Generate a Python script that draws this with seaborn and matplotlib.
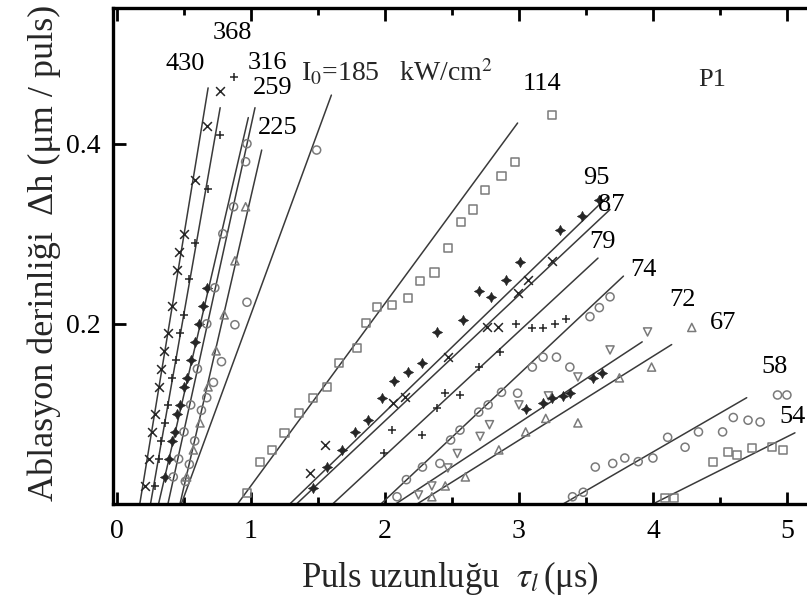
"""
Ablation depth per pulse vs pulse length, series for several intensities (P1)
"""
import numpy as np
import pandas as pd
import matplotlib
matplotlib.use('Agg')
import matplotlib.pyplot as plt
import seaborn as sns
from matplotlib.ticker import MultipleLocator, FixedLocator, FormatStrFormatter

# ── Data ──────────────────────────────────────────────────────────────────
# fitted lines: x where the fit meets zero, and the top end of the fit
LABELS  = ['430', '368', '316', '259', '225', '185', '114', '95', '87',
           '79', '74', '72', '67', '58', '54']
LINE_X0 = [0.17, 0.25, 0.31, 0.38, 0.47, 0.48, 0.90, 1.29, 1.34,
           1.61, 1.97, 2.08, 2.24, 3.33, 4.00]
LINE_X1 = [0.68, 0.77, 0.98, 1.03, 1.08, 1.60, 2.99, 3.66, 3.68,
           3.59, 3.78, 3.92, 4.14, 4.70, 5.06]
LINE_Y1 = [0.462, 0.440, 0.429, 0.440, 0.393, 0.454, 0.423, 0.341, 0.327,
           0.273, 0.253, 0.180, 0.177, 0.118, 0.079]

# label positions (data coords)
LABEL_X = [0.51, 0.86, 1.12, 1.16, 1.20, None, 3.17, 3.58, 3.69,
           3.62, 3.93, 4.22, 4.52, 4.91, 5.04]
LABEL_Y = [0.488, 0.523, 0.490, 0.462, 0.418, None, 0.466, 0.362, 0.332,
           0.291, 0.260, 0.227, 0.201, 0.152, 0.097]

# measured points
X430 = [0.21, 0.24, 0.26, 0.28, 0.31, 0.33, 0.35, 0.38, 0.41, 0.45, 0.46, 0.50, 0.58, 0.67, 0.77]
Y430 = [0.02, 0.05, 0.08, 0.10, 0.13, 0.15, 0.17, 0.19, 0.22, 0.26, 0.28, 0.30, 0.36, 0.42, 0.458]
X368 = [0.28, 0.31, 0.33, 0.36, 0.38, 0.41, 0.44, 0.47, 0.50, 0.54, 0.58, 0.68, 0.77, 0.87]
Y368 = [0.02, 0.05, 0.07, 0.09, 0.11, 0.14, 0.16, 0.19, 0.21, 0.25, 0.29, 0.35, 0.41, 0.474]
X316 = [0.36, 0.39, 0.41, 0.43, 0.45, 0.47, 0.50, 0.52, 0.55, 0.58, 0.61, 0.64, 0.67]
Y316 = [0.03, 0.05, 0.07, 0.08, 0.10, 0.11, 0.13, 0.14, 0.16, 0.18, 0.20, 0.22, 0.24]
X259 = [0.42, 0.46, 0.50, 0.55, 0.60, 0.67, 0.73, 0.79, 0.87, 0.96, 0.97]
Y259 = [0.03, 0.05, 0.08, 0.11, 0.15, 0.20, 0.24, 0.30, 0.33, 0.38, 0.40]
X225 = [0.52, 0.57, 0.62, 0.68, 0.74, 0.80, 0.88, 0.96]
Y225 = [0.03, 0.06, 0.09, 0.13, 0.17, 0.21, 0.27, 0.33]
X185 = [0.51, 0.54, 0.58, 0.63, 0.67, 0.72, 0.78, 0.88, 0.97, 1.49]
Y185 = [0.025, 0.044, 0.070, 0.104, 0.118, 0.135, 0.158, 0.199, 0.224, 0.393]
X114 = [0.97, 1.07, 1.16, 1.25, 1.36, 1.46, 1.57, 1.66, 1.79, 1.86, 1.94,
        2.05, 2.17, 2.26, 2.37, 2.47, 2.57, 2.66, 2.75, 2.87, 2.97, 3.25]
Y114 = [0.012, 0.047, 0.060, 0.079, 0.101, 0.118, 0.130, 0.157, 0.173, 0.201, 0.219,
        0.221, 0.229, 0.248, 0.257, 0.284, 0.313, 0.327, 0.349, 0.364, 0.380, 0.432]
X95 = [1.46, 1.57, 1.68, 1.78, 1.87, 1.98, 2.07, 2.17, 2.28, 2.39, 2.58,
       2.70, 2.79, 2.90, 3.01, 3.31, 3.47, 3.60]
Y95 = [0.018, 0.041, 0.060, 0.080, 0.093, 0.118, 0.136, 0.147, 0.157, 0.191, 0.204,
       0.236, 0.230, 0.249, 0.269, 0.304, 0.320, 0.338]
X87 = [1.44, 1.55, 2.06, 2.15, 2.47, 2.76, 2.84, 2.99, 3.07, 3.25]
Y87 = [0.034, 0.066, 0.112, 0.119, 0.163, 0.197, 0.196, 0.234, 0.249, 0.270]
X79 = [1.99, 2.05, 2.28, 2.39, 2.45, 2.56, 2.70, 2.86, 2.98, 3.10, 3.18, 3.27, 3.35]
Y79 = [0.057, 0.082, 0.077, 0.107, 0.123, 0.121, 0.152, 0.169, 0.200, 0.195, 0.195, 0.200, 0.205]
X74 = [2.09, 2.16, 2.28, 2.41, 2.49, 2.56, 2.70, 2.77, 2.87, 2.99, 3.10,
       3.18, 3.28, 3.38, 3.53, 3.60, 3.68]
Y74 = [0.008, 0.027, 0.041, 0.045, 0.071, 0.082, 0.102, 0.110, 0.124, 0.123, 0.152,
       0.163, 0.163, 0.152, 0.208, 0.218, 0.230]
X72 = [2.25, 2.35, 2.47, 2.54, 2.71, 2.78, 3.00, 3.22, 3.44, 3.68, 3.96]
Y72 = [0.010, 0.020, 0.040, 0.056, 0.075, 0.088, 0.110, 0.120, 0.141, 0.171, 0.191]
X72B = [3.05, 3.18, 3.25, 3.33, 3.38, 3.55, 3.62]
Y72B = [0.105, 0.112, 0.118, 0.120, 0.123, 0.140, 0.145]
X67 = [2.35, 2.45, 2.60, 2.85, 3.05, 3.20, 3.44, 3.75, 3.99, 4.29]
Y67 = [0.008, 0.020, 0.030, 0.060, 0.080, 0.095, 0.090, 0.140, 0.152, 0.196]
X58 = [3.40, 3.48, 3.57, 3.70, 3.79, 3.89, 4.00, 4.11, 4.24, 4.34, 4.52,
       4.60, 4.71, 4.80, 4.93, 5.00]
Y58 = [0.008, 0.013, 0.041, 0.045, 0.051, 0.047, 0.051, 0.074, 0.063, 0.080, 0.080,
       0.096, 0.093, 0.091, 0.121, 0.121]
X54 = [4.09, 4.16, 4.45, 4.56, 4.63, 4.74, 4.89, 4.97]
Y54 = [0.007, 0.007, 0.047, 0.058, 0.054, 0.062, 0.063, 0.060]

POINTS = [(X430, Y430), (X368, Y368), (X316, Y316), (X259, Y259), (X225, Y225),
          (X185, Y185), (X114, Y114), (X95, Y95), (X87, Y87), (X79, Y79),
          (X74, Y74), (X72, Y72), (X67, Y67), (X58, Y58), (X54, Y54)]

# ── Style ─────────────────────────────────────────────────────────────────
DARK, GRAY, LINE = '#262626', '#7a7a7a', '#3a3a3a'
STAR = (4, 1, 0)
MARK = {'430': 'x', '368': '+', '316': STAR, '259': 'o', '225': '^',
        '185': 'o', '114': 's', '95': STAR, '87': 'x', '79': '+',
        '74': 'o', '72': 'v', '67': '^', '58': 'o', '54': 's'}

sns.set_theme(style='white')
plt.rcParams['font.family'] = ['Liberation Serif', 'DejaVu Serif']
plt.rcParams['mathtext.fontset'] = 'stix'

fig = plt.figure(figsize=(8.07, 5.95), dpi=100)
ax = fig.add_axes([0.14, 0.153, 0.86, 0.834])


def draw_points(xs, ys, m):
    if m in ('x', '+'):
        sns.scatterplot(x=xs, y=ys, marker=m, color=DARK, s=40,
                        linewidth=1.1, ax=ax, legend=False, zorder=3)
    elif m == STAR:
        sns.scatterplot(x=xs, y=ys, marker=m, color=DARK, s=55,
                        edgecolor=DARK, linewidth=0.4, ax=ax, legend=False, zorder=3)
    else:
        sns.scatterplot(x=xs, y=ys, marker=m, facecolor='none', edgecolor=GRAY,
                        s=34, linewidth=1.1, ax=ax, legend=False, zorder=3)


for lab, x0, x1, y1, (xs, ys) in zip(LABELS, LINE_X0, LINE_X1, LINE_Y1, POINTS):
    sns.lineplot(x=[x0, x1], y=[0, y1], color=LINE, lw=1.1,
                 estimator=None, sort=False, ax=ax, legend=False, zorder=2)
    draw_points(xs, ys, MARK[lab])

draw_points(X72B, Y72B, STAR)

for lab, lx, ly in zip(LABELS, LABEL_X, LABEL_Y):
    if lx is None:
        continue
    ax.text(lx, ly, lab, fontsize=19, ha='center', va='center', color='black')

ax.text(1.37, 0.48, r'I$_0$=185   kW/cm$^2$', fontsize=20, ha='left', va='center')
ax.text(4.44, 0.471, 'P1', fontsize=19, ha='center', va='center')

# ── Axes ──────────────────────────────────────────────────────────────────
ax.set_xlim(-0.03, 5.15)
ax.set_ylim(0, 0.551)
ax.xaxis.set_major_locator(MultipleLocator(1))
ax.xaxis.set_minor_locator(MultipleLocator(0.5))
ax.yaxis.set_major_locator(FixedLocator([0.2, 0.4]))
ax.yaxis.set_major_formatter(FormatStrFormatter('%.1f'))
ax.tick_params(which='both', direction='in', top=True, right=False,
               bottom=True, left=True, width=2, colors='black',
               labelsize=20)
ax.tick_params(axis='x', which='both', pad=11, labeltop=False)
ax.tick_params(axis='y', which='both', pad=9)
ax.tick_params(which='major', length=9)
ax.tick_params(which='minor', length=5)

for side in ['left', 'bottom', 'top']:
    ax.spines[side].set_linewidth(2.4)
    ax.spines[side].set_color('black')
ax.spines['right'].set_visible(False)

ax.set_xlabel(r'Puls uzunluğu  $\tau_l\,$(μs)', fontsize=25)
ax.set_ylabel('Ablasyon derinliği  Δh (μm / puls)', fontsize=26)
ax.xaxis.set_label_coords(0.486, -0.11)
ax.yaxis.set_label_coords(-0.075, 0.505)

fig.savefig('out.png', dpi=100, facecolor='white')
plt.close(fig)
